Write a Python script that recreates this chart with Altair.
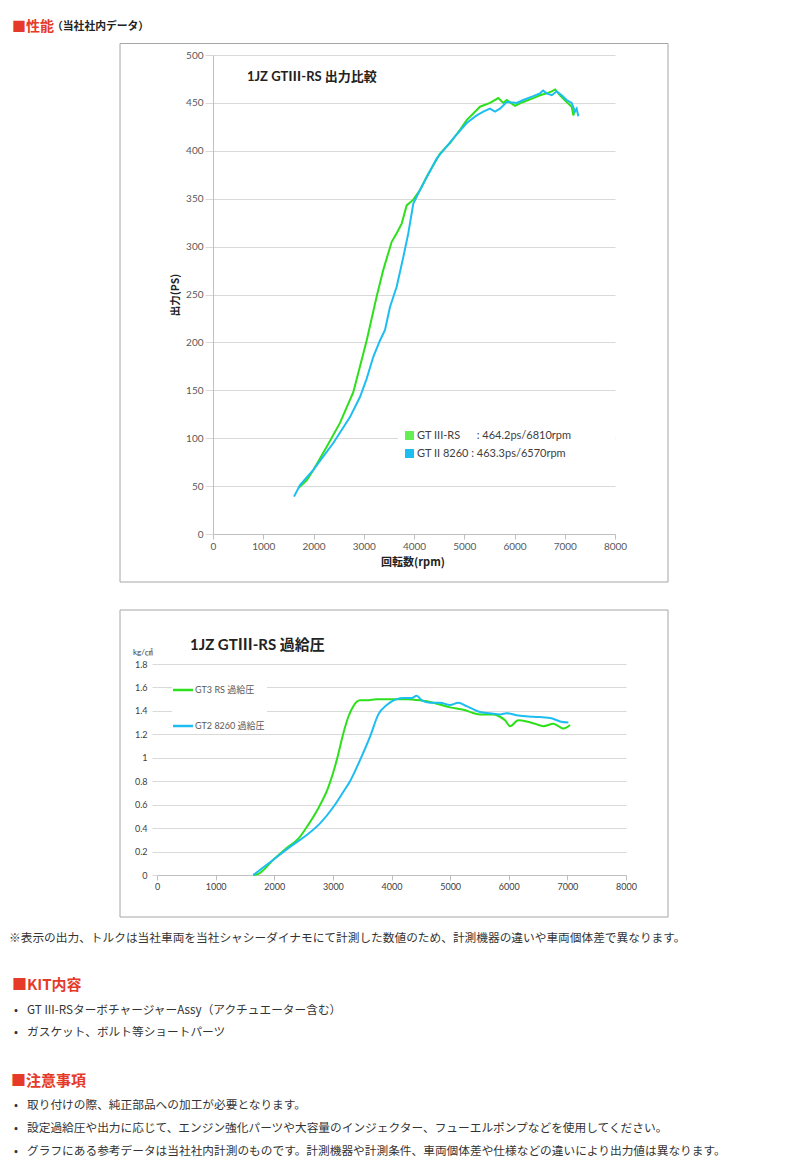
import altair as alt
import pandas as pd

# --- 出力 (PS) / 回転数 (rpm) ---
gt3_power_rpm = [1700, 1865, 2000, 2263, 2527, 2792, 3058, 3257, 3390, 3556, 3655, 3755,
                 3854, 3986, 4119, 4252, 4517, 4716, 4915, 5048, 5180, 5313, 5512, 5678,
                 5777, 5844, 6010, 6175, 6374, 6507, 6640, 6740, 6810, 6905, 7038, 7138,
                 7171, 7204]
gt3_power_ps = [48, 56, 67, 91, 116, 148, 202, 248, 276, 305, 314, 324,
                343, 349, 359, 373, 397, 408, 422, 432, 439, 446, 450, 455,
                450, 453, 447, 451, 455, 458, 460, 462, 464, 458, 451, 446,
                437, 443]
gt2_power_rpm = [1612, 1731, 1996, 2394, 2726, 2925, 3058, 3190, 3323, 3423, 3522, 3655,
                 3787, 3887, 3986, 4119, 4451, 4783, 5048, 5247, 5380, 5512, 5612, 5711,
                 5844, 6043, 6175, 6374, 6507, 6570, 6640, 6740, 6839, 6939, 7038, 7138,
                 7204, 7237, 7270]
gt2_power_ps = [39, 51, 67, 95, 122, 143, 162, 185, 202, 213, 237, 258,
                289, 314, 345, 359, 392, 413, 429, 437, 441, 444, 441, 444,
                451, 450, 453, 457, 460, 463, 460, 458, 462, 458, 453, 450,
                441, 444, 436]

# --- 過給圧 (kg/cm2) / rpm ---
gt3_boost_rpm = [1643, 1729, 1984, 2212, 2411, 2582, 2752, 2923, 3066, 3179, 3264, 3349,
                 3463, 3577, 3748, 3975, 4260, 4487, 4714, 4999, 5226, 5510, 5737, 5851,
                 5937, 6022, 6164, 6307, 6449, 6591, 6761, 6846, 6932, 7046]
gt3_boost_bar = [0, 0.01, 0.13, 0.23, 0.31, 0.43, 0.57, 0.75, 0.98, 1.21, 1.35, 1.44,
                 1.49, 1.49, 1.50, 1.50, 1.50, 1.49, 1.47, 1.43, 1.41, 1.37, 1.37, 1.35,
                 1.32, 1.27, 1.32, 1.31, 1.29, 1.27, 1.29, 1.27, 1.25, 1.28]
gt2_boost_rpm = [1643, 1984, 2269, 2525, 2781, 3008, 3179, 3293, 3463, 3634, 3776, 3918,
                 4089, 4202, 4345, 4430, 4516, 4658, 4828, 4999, 5140, 5283, 5510, 5681,
                 5851, 5965, 6164, 6420, 6705, 6875, 7017]
gt2_boost_bar = [0, 0.13, 0.24, 0.33, 0.44, 0.58, 0.71, 0.80, 0.98, 1.18, 1.37, 1.45,
                 1.50, 1.51, 1.51, 1.53, 1.49, 1.47, 1.47, 1.45, 1.47, 1.44, 1.39, 1.38,
                 1.37, 1.38, 1.36, 1.35, 1.34, 1.31, 1.30]

power_series = ["GT III-RS", "GT II 8260"]
power_legend = ["GT III-RS\u2003\u2002 : 464.2ps/6810rpm", "GT II 8260 : 463.3ps/6570rpm"]
boost_series = ["GT3 RS 過給圧", "GT2 8260 過給圧"]
series_colors = ["#2EE01C", "#1DBDF2"]
legend_colors = ["#66EE55", "#1DBDF2"]

rpm_ticks = list(range(0, 8001, 1000))
ps_ticks = list(range(0, 501, 50))
bar_ticks = [round(i * 0.2, 1) for i in range(10)]

kit_items = ["GT III-RSターボチャージャーAssy（アクチュエーター含む）",
             "ガスケット、ボルト等ショートパーツ"]
notes = ["取り付けの際、純正部品への加工が必要となります。",
         "設定過給圧や出力に応じて、エンジン強化パーツや大容量のインジェクター、フューエルポンプなどを使用してください。",
         "グラフにある参考データは当社社内計測のものです。計測機器や計測条件、車両個体差や仕様などの違いにより出力値は異なります。"]

FONT = "Lato, 'Noto Sans CJK JP', sans-serif"
JP = "'Noto Sans CJK JP', sans-serif"
RED = "#E53A2A"
TXT = "#333333"

one = pd.DataFrame({"k": [0]})


def label(text, x, y, size, color=TXT, bold=False, font=JP, angle=0, align="left"):
    return alt.Chart(one).mark_text(
        text=text, font=font, fontSize=size, color=color, align=align,
        baseline="middle", angle=angle, fontWeight="bold" if bold else "normal",
    ).encode(x=alt.value(x), y=alt.value(y))


def rect(x, x2, y, y2, **style):
    return alt.Chart(one).mark_rect(**style).encode(
        x=alt.value(x), x2=alt.value(x2), y=alt.value(y), y2=alt.value(y2))


def rule(x, x2, y, color):
    return alt.Chart(one).mark_rule(color=color, strokeWidth=2.5).encode(
        x=alt.value(x), x2=alt.value(x2), y=alt.value(y))


def frame(x, x2, y, y2):
    return rect(x, x2, y, y2, fill="white", fillOpacity=0, stroke="#A6A6A6", strokeWidth=1)


def spacer():
    # 1px invisible column so each row starts at the page's left edge
    return rect(0, 1, 0, 1, opacity=0).properties(width=1, height=1)


# ---------------- chart 1: 出力比較 ----------------
power = pd.DataFrame({
    "rpm": gt3_power_rpm + gt2_power_rpm,
    "ps": gt3_power_ps + gt2_power_ps,
    "series": [power_series[0]] * len(gt3_power_rpm) + [power_series[1]] * len(gt2_power_rpm),
})

x1 = alt.X("rpm:Q", scale=alt.Scale(domain=[0, 8000], nice=False),
           axis=alt.Axis(values=rpm_ticks, format="d", title=None, grid=False,
                         domainColor="#BFBFBF", tickColor="#BFBFBF", tickSize=5,
                         labelPadding=2, labelFontSize=10, labelColor="#595959",
                         labelFont=FONT, labelFlush=False))
y1 = alt.Y("ps:Q", scale=alt.Scale(domain=[0, 500], nice=False),
           axis=alt.Axis(values=ps_ticks, title=None, grid=True, gridColor="#D9D9D9",
                         domainColor="#BFBFBF", tickColor="#D9D9D9", tickSize=8,
                         labelPadding=2, labelFontSize=10, labelColor="#595959", labelFont=FONT))

lines1 = alt.Chart(power).mark_line(strokeWidth=2).encode(
    x=x1, y=y1,
    color=alt.Color("series:N", scale=alt.Scale(domain=power_series, range=series_colors), legend=None),
)

legend1 = [rect(185, 402, 373, 407, fill="white")]
for i, (name, col) in enumerate(zip(power_legend, legend_colors)):
    yy = 380.5 + 18 * i
    legend1.append(alt.Chart(one).mark_square(size=81, color=col, opacity=1).encode(
        x=alt.value(196.5), y=alt.value(yy)))
    legend1.append(label(name, 204, yy, 11, color="#404040", font=FONT))

chart1 = alt.layer(
    rect(-204, 579, -47, 541, opacity=0),
    frame(-93, 455, -11.5, 527),
    lines1,
    *legend1,
    label("1JZ GTⅢ-RS 出力比較", 34, 22, 13, color="#222222", bold=True, font=FONT),
    label("出力(PS)", -37, 240, 10.5, color="#222222", bold=True, angle=270, align="center"),
    label("回転数(rpm)", 200, 508, 11, color="#222222", bold=True, align="center"),
    label("■性能", -201, -28.5, 14, color=RED, bold=True),
    label("（当社社内データ）", -161, -28, 10.8, color="#222222", bold=True),
).properties(width=402, height=479)

# ---------------- chart 2: 過給圧 ----------------
boost = pd.DataFrame({
    "rpm": gt3_boost_rpm + gt2_boost_rpm,
    "bar": gt3_boost_bar + gt2_boost_bar,
    "series": [boost_series[0]] * len(gt3_boost_rpm) + [boost_series[1]] * len(gt2_boost_rpm),
})

x2 = alt.X("rpm:Q", scale=alt.Scale(domain=[0, 8000], nice=False),
           axis=alt.Axis(values=rpm_ticks, format="d", title=None, grid=False,
                         domainColor="#BFBFBF", tickColor="#BFBFBF", tickSize=5,
                         labelPadding=2, labelFontSize=9, labelColor="#404040",
                         labelFont=FONT, labelFlush=False))
y2 = alt.Y("bar:Q", scale=alt.Scale(domain=[0, 1.8], nice=False),
           axis=alt.Axis(values=bar_ticks, format=".1~f", title=None, grid=True,
                         gridColor="#D9D9D9", domain=False, tickColor="#D9D9D9", tickSize=5,
                         labelPadding=5, labelFontSize=9, labelColor="#404040", labelFont=FONT))

lines2 = alt.Chart(boost).mark_line(strokeWidth=2, interpolate="monotone").encode(
    x=x2, y=y2,
    color=alt.Color("series:N", scale=alt.Scale(domain=boost_series, range=series_colors), legend=None),
)

legend2 = [rect(15, 110, 14, 69, fill="white")]
for i, (name, col) in enumerate(zip(boost_series, series_colors)):
    yy = 26 + 36 * i
    legend2.append(rule(16, 36, yy, col))
    legend2.append(label(name, 38, yy, 9, color="#595959", font=FONT))

BODY = 11.7
footer = [
    label("※表示の出力、トルクは当社車両を当社シャシーダイナモにて計測した数値のため、計測機器の違いや車両個体差で異なります。",
          -148, 274, BODY),
    label("■KIT内容", -145, 321, 15, color=RED, bold=True),
]
for i, item in enumerate(kit_items):
    footer.append(label("•", -143, 346 + 21.5 * i, BODY))
    footer.append(label(item, -130, 346 + 21.5 * i, BODY))
footer.append(label("■注意事項", -146, 417, 15, color=RED, bold=True))
for i, item in enumerate(notes):
    footer.append(label("•", -143, 441 + 23 * i, BODY))
    footer.append(label(item, -130, 441 + 23 * i, BODY))

chart2 = alt.layer(
    rect(-148, 635, -68, 496, opacity=0),
    frame(-37, 511, -54, 253),
    lines2,
    *legend2,
    label("1JZ GTⅢ-RS  過給圧", 33, -19, 15, color="#222222", bold=True, font=FONT),
    label("kg/㎠", -24, -11, 8, color="#404040", font=FONT),
    *footer,
).properties(width=469, height=211)

chart = alt.vconcat(
    alt.hconcat(spacer(), chart1, spacing=0),
    alt.hconcat(spacer(), chart2, spacing=0),
    spacing=0,
).properties(padding=0, background="white").configure_view(stroke=None)

chart.save("out.html", embed_options={"renderer": "svg", "actions": False})
